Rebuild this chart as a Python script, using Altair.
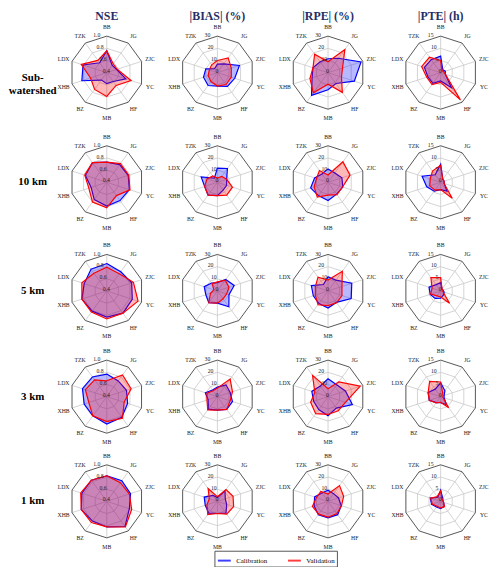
import altair as alt
import pandas as pd

# ---------------- data ----------------
STATIONS = ["BB", "JG", "ZJC", "YC", "HF", "MB", "BZ", "XHB", "LDX", "TZK"]
METRICS = ["NSE", "|BIAS| (%)", "|RPE| (%)", "|PTE| (h)"]
RESOLUTIONS = ["Sub-\nwatershed", "10 km", "5 km", "3 km", "1 km"]
RING_LABELS = [["0.4", "0.6", "0.8", "1.0"],
               ["0", "10", "20", "30"],
               ["0", "10", "20", "30"],
               ["0", "5", "10", "15"]]
RANGE_MIN = [0.4, 0, 0, 0]
RANGE_MAX = [1.0, 30, 30, 15]

# rows: Sub-watershed, 10 km, 5 km, 3 km, 1 km ; columns follow STATIONS
NSE_CAL = [
    [0.76, 0.55, 0.57, 0.73, 0.58, 0.58, 0.55, 0.83, 0.81, 0.60],
    [0.73, 0.76, 0.77, 0.79, 0.77, 0.79, 0.75, 0.67, 0.77, 0.80],
    [0.85, 0.79, 0.83, 0.84, 0.85, 0.83, 0.81, 0.83, 0.79, 0.84],
    [0.77, 0.72, 0.74, 0.76, 0.82, 0.85, 0.79, 0.79, 0.82, 0.80],
    [0.82, 0.82, 0.81, 0.79, 0.91, 0.82, 0.80, 0.84, 0.83, 0.83],
]
NSE_VAL = [
    [0.76, 0.58, 0.58, 0.82, 0.66, 0.79, 0.74, 0.68, 0.84, 0.65],
    [0.73, 0.78, 0.78, 0.80, 0.67, 0.82, 0.80, 0.71, 0.78, 0.80],
    [0.79, 0.75, 0.86, 0.94, 0.85, 0.86, 0.83, 0.83, 0.83, 0.76],
    [0.66, 0.84, 0.82, 0.70, 0.84, 0.81, 0.79, 0.71, 0.77, 0.74],
    [0.82, 0.78, 0.79, 0.83, 0.92, 0.82, 0.83, 0.84, 0.85, 0.83],
]
BIAS_CAL = [
    [7, 9, 19, 15, 14, 11, 13, 12, 10, 4],
    [11.6, 14, 8, 8, 8, 11, 13, 11, 14, 4.3],
    [6.8, 11.6, 14.5, 10, 16, 10, 12, 10, 11.4, 8],
    [7.8, 12, 11, 13, 13, 11, 12.7, 8, 10.4, 6.8],
    [3.2, 10.6, 6.8, 8, 12, 10, 12, 10.5, 11.4, 6],
]
BIAS_VAL = [
    [10, 15, 12, 12, 12, 11, 9, 8, 7, 8],
    [3.5, 6, 8, 13, 13, 11, 13, 11, 9, 6.5],
    [7.5, 11, 10, 8, 8, 10, 12, 6, 3, 7.5],
    [7, 17.8, 13, 11, 13, 11, 13.5, 9, 9, 6],
    [3.8, 12, 13.5, 14, 13, 10, 13.5, 9, 7, 13],
]
RPE_CAL = [
    [11.4, 14.6, 28.5, 22.7, 11, 14, 23, 13.8, 13, 11],
    [11, 9.5, 12, 12.7, 12, 15, 13.5, 15, 11.6, 8.4],
    [11.6, 11, 20.5, 20, 11.6, 14, 12.7, 12.7, 14.4, 6.5],
    [14.6, 12, 15, 21, 11.6, 15.7, 13, 12.4, 14, 10.8],
    [9.2, 7.8, 9, 11.4, 13.5, 13.5, 13.5, 12, 11.6, 8.5],
]
RPE_VAL = [
    [9, 23.5, 12.5, 11.6, 20, 9.5, 20.5, 15.6, 13, 18.7],
    [6, 20.8, 19, 12.5, 12.5, 10.5, 15, 12, 10, 12],
    [9, 20, 12, 12, 12, 12, 14, 11, 11, 14],
    [6.5, 15, 27.8, 15, 14.3, 14.6, 17.3, 15, 11.4, 21.6],
    [6, 16, 13.5, 11.6, 12.4, 13, 13, 13.5, 10, 10],
]
PTE_CAL = [
    [6.8, 1.5, 2, 2, 7.6, 3.4, 5.4, 5.5, 7, 6.6],
    [7.4, 1.5, 1.5, 1.5, 4.5, 3, 4.5, 6, 8, 3.8],
    [3.4, 1, 1, 1.5, 2, 3, 3.8, 4.5, 5, 3.2],
    [5.7, 3, 1.5, 1.5, 4, 2.5, 3, 4.9, 5.4, 3.8],
    [4.6, 1.5, 1, 1.3, 2.6, 3, 2.9, 3.9, 4.5, 2],
]
PTE_VAL = [
    [5, 1, 1.3, 2, 13.8, 4, 6, 6, 8.2, 7.8],
    [7, 1.5, 1.5, 1.5, 8.1, 3, 4, 4.7, 4.5, 5.7],
    [5.5, 1, 1, 1, 6.2, 2.5, 2.5, 4.3, 3.7, 6.8],
    [6, 1.5, 1, 1, 5.6, 2.3, 3.2, 4.9, 5.4, 7.7],
    [4.3, 1, 1, 1.2, 2.7, 2.7, 2.5, 3.6, 4.3, 2.4],
]
SERIES = [(NSE_CAL, NSE_VAL), (BIAS_CAL, BIAS_VAL), (RPE_CAL, RPE_VAL), (PTE_CAL, PTE_VAL)]

# ---------------- layout (page pixel coordinates) ----------------
COL_X = [108, 220, 332, 446]
ROW_Y = [70, 181, 291, 398, 504]
R = 37.0
LABEL_R = 46.0
FONT = "Liberation Serif"
BLUE = "#0000ff"
RED = "#ff0000"
PAD_TOP = 4
PAD_RIGHT = 6
W = 484
H = 555

poly_rows, ring_rows, spoke_rows, stn_rows, rl_rows = [], [], [], [], []
for mi in range(4):
    lo, hi = RANGE_MIN[mi], RANGE_MAX[mi]
    for ri in range(5):
        cx, cy = COL_X[mi], ROW_Y[ri]
        for sname, arr in (("Calibration", SERIES[mi][0]), ("Validation", SERIES[mi][1])):
            for k, v in enumerate(arr[ri]):
                poly_rows.append(dict(key=f"{mi}-{ri}", series=sname, k=k, ang=36 * k,
                                      cx=cx, cy=cy, f=(v - lo) / (hi - lo)))
        for j in (1, 2, 3):
            for k in range(10):
                ring_rows.append(dict(key=f"{mi}-{ri}-{j}", outer=(j == 3), k=k, ang=36 * k,
                                      cx=cx, cy=cy, f=j / 3))
        for k in range(10):
            for ff in (0.0, 1.0):
                spoke_rows.append(dict(key=f"{mi}-{ri}-{k}", k=ff, ang=36 * k, cx=cx, cy=cy, f=ff))
            stn_rows.append(dict(label=STATIONS[k], ang=36 * k, cx=cx, cy=cy, f=LABEL_R / R))
        for j, lab in enumerate(RING_LABELS[mi]):
            rl_rows.append(dict(label=lab, ang=-15, cx=cx, cy=cy, f=j / 3 + 2.0 / R))

poly_df = pd.DataFrame(poly_rows)
ring_df = pd.DataFrame(ring_rows)
spoke_df = pd.DataFrame(spoke_rows)
stn_df = pd.DataFrame(stn_rows)
rl_df = pd.DataFrame(rl_rows)
title_df = pd.DataFrame(dict(label=METRICS, x=COL_X, y=[12.5] * 4))
row_df = pd.DataFrame(dict(label=RESOLUTIONS, x=[33] * 5, y=[ROW_Y[0] + 5] + ROW_Y[1:]))

XS = alt.Scale(domain=[8, 8 + W], nice=False, zero=False)
YS = alt.Scale(domain=[8 + PAD_TOP, 8 + PAD_TOP + H], nice=False, zero=False, reverse=True)
X = alt.X("x:Q", scale=XS, axis=None)
Y = alt.Y("y:Q", scale=YS, axis=None)


def polar(base):
    return base.transform_calculate(
        x=f"datum.cx + datum.f * {R} * sin(datum.ang * PI / 180)",
        y=f"datum.cy - datum.f * {R} * cos(datum.ang * PI / 180)",
    )


rings_inner = polar(alt.Chart(ring_df).transform_filter("!datum.outer").mark_line(
    interpolate="linear-closed", color="#c8c8c8", strokeWidth=0.8
)).encode(x=X, y=Y, detail="key:N", order="k:Q")

spokes = polar(alt.Chart(spoke_df).mark_line(color="#c8c8c8", strokeWidth=0.8)).encode(
    x=X, y=Y, detail="key:N", order="k:Q")

rings_outer = polar(alt.Chart(ring_df).transform_filter("datum.outer").mark_line(
    interpolate="linear-closed", color="#555555", strokeWidth=1.0
)).encode(x=X, y=Y, detail="key:N", order="k:Q")

color = alt.Color(
    "series:N",
    scale=alt.Scale(domain=["Calibration", "Validation"], range=[BLUE, RED]),
    legend=alt.Legend(
        title=None, orient="none", legendX=209, legendY=555 - 8 - PAD_TOP - 1,
        direction="horizontal",
        symbolType="stroke", symbolSize=170, symbolStrokeWidth=2,
        labelFont=FONT, labelFontSize=7, labelColor="#000000", labelOffset=4,
        columnPadding=16, padding=2, strokeColor="#555555", fillColor="#ffffff",
        cornerRadius=0, symbolOpacity=0.75,
    ),
)

cal_poly = polar(alt.Chart(poly_df).transform_filter("datum.series == 'Calibration'").mark_line(
    interpolate="linear-closed", fill=BLUE, fillOpacity=0.28, strokeWidth=1.2
)).encode(x=X, y=Y, detail="key:N", order="k:Q", color=color)

val_poly = polar(alt.Chart(poly_df).transform_filter("datum.series == 'Validation'").mark_line(
    interpolate="linear-closed", fill=RED, fillOpacity=0.28, strokeWidth=1.2
)).encode(x=X, y=Y, detail="key:N", order="k:Q", color=color)

stn_text = polar(alt.Chart(stn_df).mark_text(
    font=FONT, fontSize=5.8, color="#222222", align="center", baseline="middle"
)).encode(x=X, y=Y, text="label:N")

ring_text = polar(alt.Chart(rl_df).mark_text(
    font=FONT, fontSize=5.8, color="#222222", align="center", baseline="middle"
)).encode(x=X, y=Y, text="label:N")

titles = alt.Chart(title_df).mark_text(
    font=FONT, fontSize=12, fontWeight="bold", color="#1f2f66", align="center", baseline="middle"
).encode(x=X, y=Y, text="label:N")

row_labels = alt.Chart(row_df).mark_text(
    font=FONT, fontSize=11, fontWeight="bold", color="#000000", align="center",
    baseline="middle", lineBreak="\n", lineHeight=14
).encode(x=X, y=Y, text="label:N")

chart = alt.layer(
    rings_inner, spokes, rings_outer, cal_poly, val_poly, stn_text, ring_text, titles, row_labels
).properties(
    width=W, height=H, autosize="none",
    padding={"left": 0, "top": PAD_TOP, "right": PAD_RIGHT, "bottom": 0},
).configure_view(stroke=None)

chart.save("out.html", embed_options={"renderer": "svg", "actions": False})
